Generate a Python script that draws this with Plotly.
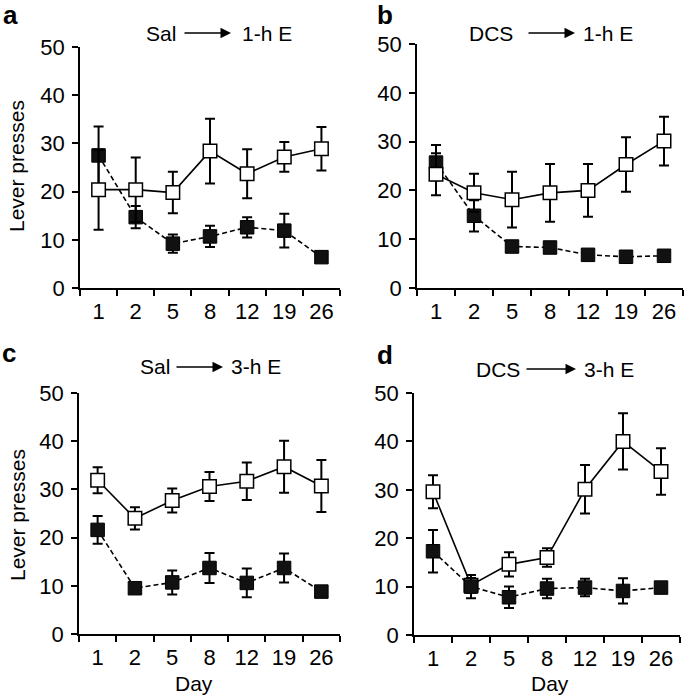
import plotly.graph_objects as go

W, H = 685, 700

days = ["1", "2", "5", "8", "12", "19", "26"]
y_ticks = [0, 10, 20, 30, 40, 50]

# Panel a: Sal -> 1-h E
a_open = [20.4, 20.4, 19.8, 28.4, 23.7, 27.2, 28.9]
a_open_err = [8.3, 6.7, 4.3, 6.7, 5.1, 3.1, 4.5]
a_filled = [27.5, 14.7, 9.2, 10.7, 12.6, 11.9, 6.4]
a_filled_err = [6.0, 2.3, 1.9, 2.2, 2.1, 3.5, 0.5]

# Panel b: DCS -> 1-h E
b_open = [23.3, 19.5, 18.1, 19.5, 20.0, 25.3, 30.1]
b_open_err = [4.3, 3.9, 5.7, 5.9, 5.4, 5.6, 5.0]
b_filled = [25.7, 14.8, 8.5, 8.3, 6.8, 6.4, 6.6]
b_filled_err = [3.6, 3.2, 0.6, 1.0, 0.5, 0.7, 0.5]

# Panel c: Sal -> 3-h E
c_open = [31.9, 24.0, 27.7, 30.6, 31.7, 34.7, 30.7]
c_open_err = [2.7, 2.3, 2.5, 3.0, 3.9, 5.4, 5.4]
c_filled = [21.6, 9.5, 10.7, 13.7, 10.6, 13.7, 8.8]
c_filled_err = [2.9, 0.7, 2.5, 3.1, 3.0, 3.0, 0.5]

# Panel d: DCS -> 3-h E
d_open = [29.6, 10.3, 14.6, 16.0, 30.1, 40.0, 33.8]
d_open_err = [3.4, 1.5, 2.5, 1.9, 5.0, 5.8, 4.8]
d_filled = [17.3, 10.0, 7.8, 9.6, 9.8, 9.1, 9.8]
d_filled_err = [4.4, 2.4, 2.2, 2.0, 1.8, 2.6, 0.6]

titles = [("Sal", "1-h E"), ("DCS", "1-h E"), ("Sal", "3-h E"), ("DCS", "3-h E")]
letters = ["a", "b", "c", "d"]

FONT = "Liberation Sans, Arial, Helvetica, sans-serif"
FS = 21
TFS = 22

def px(x):
    return x / W

def py(y):
    return 1 - y / H

fig = go.Figure()

# plot geometry (window pixels): x0, x1, ytop(50), ybottom(0)
geo = [
    (80, 340, 47, 288),
    (417, 683, 44, 288),
    (79, 340, 393, 634),
    (414, 680, 393, 635),
]

panels = [
    (a_open, a_open_err, a_filled, a_filled_err, False),
    (b_open, b_open_err, b_filled, b_filled_err, False),
    (c_open, c_open_err, c_filled, c_filled_err, False),
    (d_open, d_open_err, d_filled, d_filled_err, True),
]

for i, (op, ope, fi, fie, open_first) in enumerate(panels):
    xa = "x" if i == 0 else f"x{i+1}"
    ya = "y" if i == 0 else f"y{i+1}"
    filled_tr = go.Scatter(
        x=days, y=fi, xaxis=xa, yaxis=ya, mode="lines+markers",
        line=dict(color="black", width=1.6, dash="5px,3px"),
        marker=dict(symbol="square", size=13.5, color="#111111",
                    line=dict(color="black", width=1)),
        error_y=dict(type="data", array=fie, visible=True, color="black",
                     thickness=2, width=5),
        showlegend=False, cliponaxis=False, hoverinfo="skip",
    )
    open_tr = go.Scatter(
        x=days, y=op, xaxis=xa, yaxis=ya, mode="lines+markers",
        line=dict(color="black", width=1.6),
        marker=dict(symbol="square", size=13.5, color="white",
                    line=dict(color="black", width=1.5)),
        error_y=dict(type="data", array=ope, visible=True, color="black",
                     thickness=2, width=5),
        showlegend=False, cliponaxis=False, hoverinfo="skip",
    )
    if open_first:
        fig.add_trace(open_tr)
        fig.add_trace(filled_tr)
    else:
        fig.add_trace(filled_tr)
        fig.add_trace(open_tr)

layout = dict(
    template="none",
    width=W, height=H,
    margin=dict(l=0, r=0, t=0, b=0, pad=0, autoexpand=False),
    paper_bgcolor="white", plot_bgcolor="white",
    font=dict(family=FONT, size=FS, color="black"),
    showlegend=False,
)

for i, (x0, x1, yt, yb) in enumerate(geo):
    xk = "xaxis" if i == 0 else f"xaxis{i+1}"
    yk = "yaxis" if i == 0 else f"yaxis{i+1}"
    ya = "y" if i == 0 else f"y{i+1}"
    xa = "x" if i == 0 else f"x{i+1}"
    layout[xk] = dict(
        domain=[px(x0), min(1.0, px(x1))], anchor=ya, type="category",
        categoryorder="array", categoryarray=days,
        range=[-0.5, 6.5], tickson="boundaries", automargin=False,
        showline=True, linecolor="black", linewidth=1.5,
        ticks="outside", ticklen=6, tickwidth=1.5, tickcolor="black",
        ticklabelstandoff=3,
        showgrid=False, zeroline=False, fixedrange=True,
        tickfont=dict(size=TFS),
    )
    layout[yk] = dict(
        domain=[py(yb), py(yt)], anchor=xa, range=[0, 50], automargin=False,
        tickmode="array", tickvals=y_ticks,
        showline=True, linecolor="black", linewidth=1.5,
        ticks="outside", ticklen=6, tickwidth=1.5, tickcolor="black",
        ticklabelstandoff=3,
        showgrid=False, zeroline=False, fixedrange=True,
        tickfont=dict(size=TFS),
    )

fig.update_layout(**layout)

ann = []
# panel letters
for (lx, ly), L in zip([(10, 15), (385, 15), (9, 353), (385, 355)], letters):
    ann.append(dict(x=px(lx), y=py(ly), xref="paper", yref="paper", text=f"<b>{L}</b>",
                    showarrow=False, font=dict(size=26, family=FONT), xanchor="center", yanchor="middle"))

# titles: (left text center x, arrow start, arrow end, right text center x, y)
tpos = [
    (161, 183, 231, 267, 33),
    (491, 527, 575, 608, 33),
    (155, 175, 223, 256, 367),
    (498, 525, 576, 609, 369),
]
for (lc, a0, a1, rc, ty), (lt, rt) in zip(tpos, titles):
    ann.append(dict(x=px(lc), y=py(ty), xref="paper", yref="paper", text=lt,
                    showarrow=False, font=dict(size=FS), xanchor="center", yanchor="middle"))
    ann.append(dict(x=px(rc), y=py(ty), xref="paper", yref="paper", text=rt,
                    showarrow=False, font=dict(size=FS), xanchor="center", yanchor="middle"))
    ann.append(dict(x=px(a1), y=py(ty), xref="paper", yref="paper", text="",
                    showarrow=True, ax=-(a1 - a0), ay=0, arrowhead=2, arrowsize=1.4,
                    arrowwidth=1.5, arrowcolor="black"))

# y-axis labels
for cy in [166, 515]:
    ann.append(dict(x=px(17), y=py(cy), xref="paper", yref="paper", text="Lever presses",
                    textangle=-90, showarrow=False, font=dict(size=FS),
                    xanchor="center", yanchor="middle"))
# x-axis labels
for cx in [194, 550]:
    ann.append(dict(x=px(cx), y=py(683), xref="paper", yref="paper", text="Day",
                    showarrow=False, font=dict(size=FS), xanchor="center", yanchor="middle"))

fig.update_layout(annotations=ann)

fig.write_html(
    "out.html",
    config={"displayModeBar": False},
    post_script="document.body.style.margin='0px';document.body.style.padding='0px';",
)
